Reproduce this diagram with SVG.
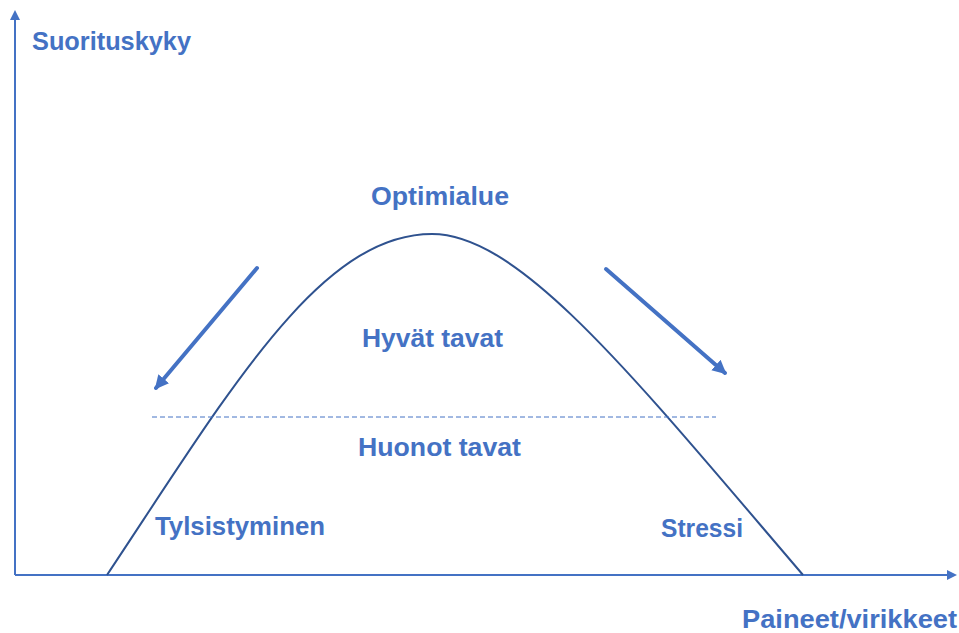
<svg xmlns="http://www.w3.org/2000/svg" width="959" height="633" viewBox="0 0 959 633">
<style>
.t{font-family:"Liberation Sans",Arial,sans-serif;font-weight:bold;font-size:25px;fill:#4472C4}
.ax{stroke:#4472C4;stroke-width:2;fill:none}
.ar{stroke:#4472C4;stroke-width:4;fill:none;stroke-linecap:round}
</style>
<defs>
<marker id="ah" markerWidth="10" markerHeight="10" refX="8" refY="5" orient="auto" markerUnits="userSpaceOnUse">
<path d="M0,0 L10,5 L0,10 Z" fill="#4472C4"/>
</marker>
<marker id="ah2" markerWidth="16" markerHeight="16" refX="12" refY="8" orient="auto" markerUnits="userSpaceOnUse">
<path d="M0,1 L14,8 L0,15 Z" fill="#4472C4"/>
</marker>
</defs>
<rect width="959" height="633" fill="#fff"/>
<g id="connectors">
<path class="ax" d="M15,575 L15,12" marker-end="url(#ah)"/>
<path class="ax" d="M15,575 L955,575" marker-end="url(#ah)"/>
<path id="curve" d="M107,575 C230,390 320,234 432,234 C520,234 633,376 803,575" fill="none" stroke="#2F528F" stroke-width="2"/>
<line x1="152" y1="417" x2="716" y2="417" stroke="#4472C4" stroke-width="1" stroke-dasharray="5,3"/>
<path class="ar" d="M257,268 L156,388" marker-end="url(#ah2)"/>
<path class="ar" d="M606,269 L725,373" marker-end="url(#ah2)"/>
</g>
<g id="labels">
<text class="t" x="32" y="50" textLength="159" lengthAdjust="spacingAndGlyphs">Suorituskyky</text>
<text class="t" x="371" y="205" textLength="138" lengthAdjust="spacingAndGlyphs">Optimialue</text>
<text class="t" x="362" y="347" textLength="141" lengthAdjust="spacingAndGlyphs">Hyvät tavat</text>
<text class="t" x="358" y="456" textLength="163" lengthAdjust="spacingAndGlyphs">Huonot tavat</text>
<text class="t" x="155" y="535" textLength="170" lengthAdjust="spacingAndGlyphs">Tylsistyminen</text>
<text class="t" x="661" y="537" textLength="82" lengthAdjust="spacingAndGlyphs">Stressi</text>
<text class="t" x="742" y="628" textLength="215" lengthAdjust="spacingAndGlyphs">Paineet/virikkeet</text>
</g>
</svg>
